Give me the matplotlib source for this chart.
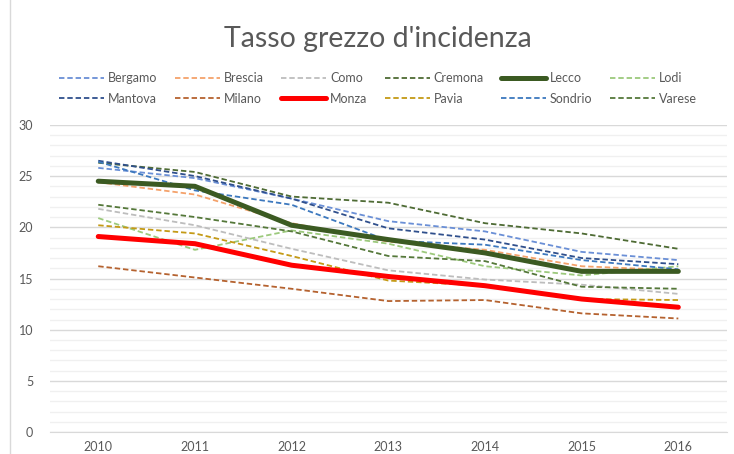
import matplotlib
matplotlib.use('Agg')
import matplotlib.pyplot as plt
from matplotlib.lines import Line2D
from matplotlib.ticker import MultipleLocator

plt.rcParams['font.family'] = ['Lato', 'DejaVu Sans']

# Data
years = ['2010', '2011', '2012', '2013', '2014', '2015', '2016']
provinces = ['Bergamo', 'Brescia', 'Como', 'Cremona', 'Lecco', 'Lodi',
             'Mantova', 'Milano', 'Monza', 'Pavia', 'Sondrio', 'Varese']

bergamo = [25.8, 24.8, 22.8, 20.6, 19.6, 17.6, 16.8]
brescia = [24.4, 23.2, 20.4, 18.6, 17.8, 16.2, 15.8]
como = [21.8, 20.2, 17.9, 15.8, 14.9, 14.4, 13.5]
cremona = [26.3, 25.4, 23.0, 22.4, 20.4, 19.4, 17.9]
lecco = [24.5, 24.0, 20.2, 18.8, 17.5, 15.7, 15.7]
lodi = [20.9, 17.8, 19.7, 18.4, 16.2, 15.3, 16.2]
mantova = [26.5, 25.0, 22.8, 19.9, 18.8, 17.0, 16.4]
milano = [16.2, 15.1, 14.0, 12.8, 12.9, 11.6, 11.1]
monza = [19.1, 18.4, 16.3, 15.2, 14.3, 13.0, 12.2]
pavia = [20.2, 19.4, 17.2, 14.8, 14.3, 13.0, 12.9]
sondrio = [26.4, 23.6, 22.2, 18.7, 18.3, 16.8, 15.9]
varese = [22.2, 21.0, 19.6, 17.2, 16.7, 14.2, 14.0]

series = [bergamo, brescia, como, cremona, lecco, lodi,
          mantova, milano, monza, pavia, sondrio, varese]

colors = ['#6A8FD6', '#F4A26B', '#BDBDBD', '#4E6B34', '#3B5A22', '#9CC97C',
          '#2F4F8C', '#B5622F', '#FF0000', '#C49A16', '#3C78BE', '#55783A']
thick = {'Lecco', 'Monza'}

fig = plt.figure(figsize=(7.34, 4.54), dpi=100)
ax = fig.add_axes([0.068, 0.048, 0.922, 0.677])

x = list(range(len(years)))
handles = []
for name, vals, col in zip(provinces, series, colors):
    if name in thick:
        ln, = ax.plot(x, vals, color=col, linewidth=3.6, solid_capstyle='round',
                      zorder=4, label=name)
    else:
        ln, = ax.plot(x, vals, color=col, linewidth=1.3, linestyle=(0, (3, 1.6)),
                      zorder=3, label=name)
    handles.append(ln)

ax.set_xlim(-0.5, len(years) - 0.5)
ax.set_ylim(0, 30)
ax.set_xticks(x)
ax.set_xticklabels(years)
ax.yaxis.set_major_locator(MultipleLocator(5))
ax.yaxis.set_minor_locator(MultipleLocator(1))
ax.grid(which='major', axis='y', color='#D9D9D9', linewidth=1.0)
ax.grid(which='minor', axis='y', color='#F0F0F0', linewidth=1.0)
ax.set_axisbelow(True)
for s in ['top', 'right', 'left']:
    ax.spines[s].set_visible(False)
ax.spines['bottom'].set_color('#D9D9D9')
ax.tick_params(axis='both', which='both', length=0, colors='#595959', labelsize=9)
ax.tick_params(axis='y', pad=12)
ax.tick_params(axis='x', pad=6)

# legend: 2 rows x 6 columns, filled row by row
order = []
for c in range(6):
    order += [c, c + 6]
fig.legend([handles[i] for i in order], [provinces[i] for i in order],
           ncol=6, loc='center', bbox_to_anchor=(0.515, 0.805), frameon=False,
           fontsize=9, handlelength=3.6, handletextpad=0.3, columnspacing=1.4,
           labelspacing=0.65, labelcolor='#595959')

fig.text(0.515, 0.915, "Tasso grezzo d'incidenza", ha='center', va='center',
         fontsize=20.5, color='#595959')

# chart area border on the left
fig.add_artist(Line2D([0.013, 0.013], [0, 1], color='#D9D9D9', linewidth=1.0))

fig.savefig('out.png', dpi=100, facecolor='white')
